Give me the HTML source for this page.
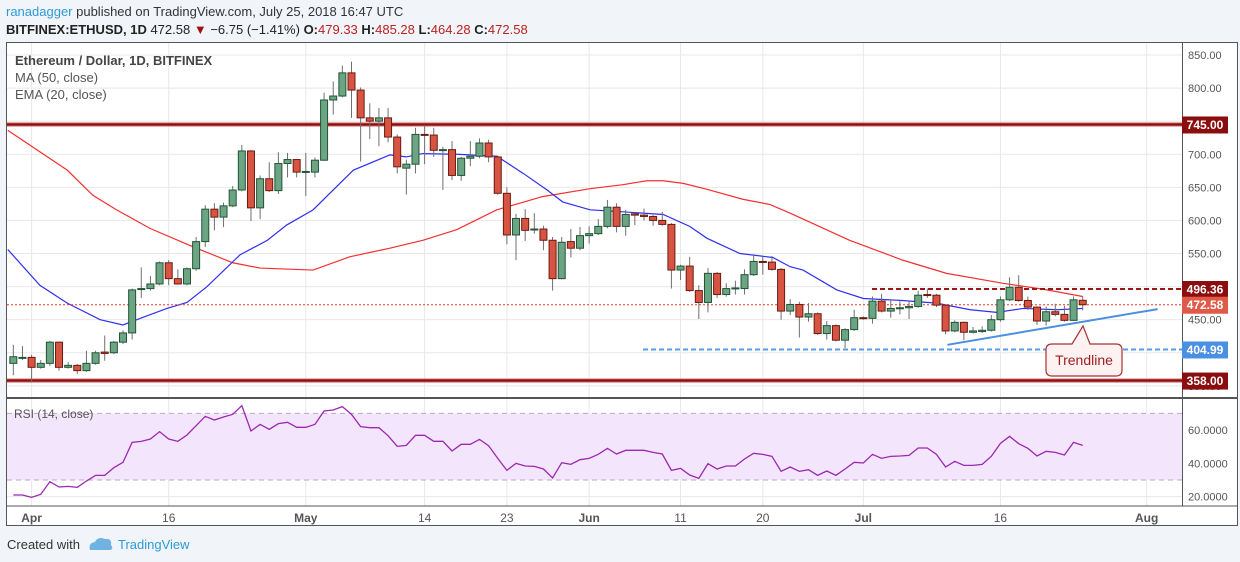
<!DOCTYPE html>
<html><head><meta charset="utf-8">
<style>
html,body{margin:0;padding:0;background:#f1f4f8;width:1240px;height:562px;overflow:hidden;font-family:"Liberation Sans",sans-serif}
svg{position:absolute;left:0;top:0}
</style></head>
<body>
<svg id="chart" width="1240" height="562" xmlns="http://www.w3.org/2000/svg" font-family="Liberation Sans, sans-serif">
<text x="6" y="16" font-size="13" fill="#333"><tspan fill="#2d9ad8">ranadagger</tspan> published on TradingView.com, July 25, 2018 16:47 UTC</text>
<text x="6" y="34" font-size="13" fill="#222"><tspan font-weight="bold">BITFINEX:ETHUSD, 1D</tspan> 472.58 <tspan fill="#a01010">▼</tspan> −6.75 (−1.41%) <tspan font-weight="bold">O:</tspan><tspan fill="#b22">479.33</tspan> <tspan font-weight="bold">H:</tspan><tspan fill="#b22">485.28</tspan> <tspan font-weight="bold">L:</tspan><tspan fill="#b22">464.28</tspan> <tspan font-weight="bold">C:</tspan><tspan fill="#b22">472.58</tspan></text>
<rect x="6.5" y="42.5" width="1231" height="483" fill="#fff" stroke="#555"/>
<g id="grid"></g>
<g id="rsi"></g>
<g id="price"></g>
<g id="axes"></g>
<line x1="6" y1="398" x2="1237" y2="398" stroke="#555" stroke-width="2"/>
<line x1="6" y1="506" x2="1237" y2="506" stroke="#555"/>
<line x1="1182.5" y1="42" x2="1182.5" y2="506" stroke="#555"/>
<text x="15" y="65" font-size="13" fill="#444" font-weight="bold">Ethereum / Dollar, 1D, BITFINEX</text>
<text x="15" y="82" font-size="13" fill="#555">MA (50, close)</text>
<text x="15" y="99" font-size="13" fill="#555">EMA (20, close)</text>
<text x="14" y="418" font-size="12" fill="#555">RSI (14, close)</text>
<g id="labels"></g>
<g>
<path d="M1052,344 L1072,344 L1083,326 L1090,344 L1116,344 Q1122,344 1122,350 L1122,370 Q1122,376 1116,376 L1052,376 Q1046,376 1046,370 L1046,350 Q1046,344 1052,344 Z" fill="#fdf1f1" stroke="#a83232" stroke-width="1.2"/>
<text x="1084" y="365" font-size="14" fill="#a02020" text-anchor="middle">Trendline</text>
</g>
<text x="7" y="549" font-size="13" fill="#333">Created with</text>
<g>
<path d="M90,550 Q88,543 95,542 Q98,536 105,539 Q112,538 111,545 Q114,549 110,550 Z" fill="#6fb3e3"/>
<text x="118" y="549" font-size="13" fill="#2d9ad8">TradingView</text>
</g>
</svg>
<script>
// ---- data ----
const startDay = -2; // first candle = Mar 30 (Apr 1 = day 0)
const opens = [384,392,393,378,384,416,378,381,373,384,401,400,416,430,496,497,504,536,512,504,527,568,617,605,622,646,705,619,663,645,686,692,673,673,691,782,788,823,797,755,750,755,726,679,685,730,729,706,707,668,694,697,717,696,641,578,603,586,587,570,512,568,558,577,580,591,620,591,610,608,606,600,594,525,531,494,476,520,488,497,497,518,538,537,526,463,473,454,459,429,441,419,435,453,452,478,463,467,468,470,488,487,472,433,446,431,432,434,450,480,499,479,469,448,462,458,449,479.33];
const closes = [394,393,378,384,416,378,381,373,384,400,399,416,430,495,497,504,536,512,504,527,568,617,605,622,646,705,619,663,645,686,692,673,674,691,782,788,823,797,755,750,755,726,681,685,730,729,706,707,668,694,697,717,696,641,578,603,585,587,570,512,567,558,577,580,591,620,591,609,608,606,600,594,525,531,494,476,520,488,497,498,518,538,537,526,463,473,454,459,429,441,419,435,453,452,478,463,467,468,470,487,487,472,433,446,431,433,434,450,480,499,479,469,448,462,458,449,480,472.58];
const highs = [412,410,397,389,418,417,386,383,403,403,426,418,434,497,529,516,538,540,526,529,575,623,626,627,652,714,706,668,688,703,702,693,702,695,793,810,834,840,801,777,770,770,730,692,740,744,740,711,720,696,720,724,722,698,650,610,617,611,592,575,575,587,590,591,602,631,626,616,613,618,608,613,596,533,545,502,528,522,505,509,526,549,545,546,528,481,477,475,461,448,443,437,465,455,485,489,481,478,479,494,497,489,473,449,447,439,440,457,485,514,517,485,470,470,474,471,485,485.28];
const lows = [366,389,355,376,380,373,376,368,371,382,388,398,413,420,483,494,502,502,503,502,524,560,585,590,620,644,599,602,643,640,665,665,637,665,690,760,786,755,689,723,712,718,671,639,671,685,696,646,661,660,682,694,688,639,564,540,569,580,555,494,511,544,555,565,578,588,582,577,593,600,592,592,497,510,492,451,461,483,485,488,488,516,518,524,450,457,423,447,427,420,417,407,433,450,444,461,453,458,451,468,483,469,428,431,419,429,430,432,447,478,477,465,442,441,455,447,448,464.28];
const rsiVals = [21,21,19.6,21.4,29,25.8,26.2,25.6,29.4,32.8,32.8,37.4,40.6,52.6,53.2,54.6,59,54.6,53.2,57,62.6,68.2,66,67.8,69.4,74.6,59.4,63.4,60.4,63.8,64.6,61.6,61.6,63.4,71.4,72,74,69.4,62,61.4,61.4,56.6,50.2,50.8,56.8,56.8,53.2,53.2,47.4,51.4,51.4,54.4,50.6,43,35.8,40,38.4,38.2,36.6,31.2,40.4,39.4,42.2,43,45.4,49,45.6,47.8,47.8,47.8,46.6,45.6,35.8,37,33,31,39.8,36.6,38.4,38.4,42.6,46,45.4,44.2,35.2,37.8,35.2,36.2,32.8,35.4,32.8,36.6,40.6,40.2,45.4,43,44.2,44.4,44.8,49.2,49.2,45.4,37.8,41.2,38.8,38.8,39.4,44.2,52,56.2,51.8,49,44.4,47.2,46.6,45,52.6,50.8];
const emaDays = [-2.6,0.9,3.9,7.5,10,11.9,14.8,17,19.2,22.8,25.8,27.9,30.8,33,35.2,39.2,41,42.8,46.5,50.9,53.8,56.4,58.1,61.1,64.7,69.1,72,73.9,77.5,81.1,83,84.4,88.1,91,95.3,99,102.7,105.6,108.5,112.2,115];
const emaVals = [556,502,475,450,442,452,467,476,500,548,570,593,616,646,676,699,696,701,700,697,671,646,628,616,613,609,591,573,550,544,530,525,495,482,479,475,465,461,467,465,467];
const maDays = [-2.6,3.9,6.7,9.3,12.95,17.7,22,25,30.8,34.8,39.2,42.8,46.5,50.9,55.9,61.1,64.7,67.3,69.1,71.3,73.9,77.8,80.8,83,89.5,95.3,100.1,106.3,110.7,115];
const maVals = [736,676,638,616,588,560,536,528,525,545,558,570,586,616,636,648,654,660,660,656,647,632,624,611,570,540,520,505,496,485];
const priceTicks = [850,800,750,700,650,600,550,500,450,400,350];
const rsiTicks = [60,40,20];
const dateTickDays = [0,15,30,43,52,61,71,80,91,106,122];
const dateTickLabels = ["Apr","16","May","14","23","Jun","11","20","Jul","16","Aug"];
const dateTickBold = [1,0,1,0,0,1,0,0,1,0,1];
const levelVals = [745,496.36,472.58,404.99,358];
const levelColors = ["#8b0d0d","#8b0d0d","#e05a48","#4a90e2","#8b0d0d"];
const trendDays = [100.2,123.2];
const trendVals = [412,466];
// ---- scales ----
const NS="http://www.w3.org/2000/svg";
const xD = d => 31.6 + d*9.14;
const yP = p => 55 + (850-p)*0.6617;
const yR = v => 430 + (60-v)*1.667;
function mk(tag, attrs, parent){const e=document.createElementNS(NS,tag);for(const k in attrs)e.setAttribute(k,attrs[k]);parent.appendChild(e);return e;}
const grid=document.getElementById('grid'), price=document.getElementById('price'), rsi=document.getElementById('rsi'), axes=document.getElementById('axes'), labels=document.getElementById('labels');
// grid
priceTicks.forEach(p=>{const l=mk('line',{x1:7,x2:1182,y1:yP(p),y2:yP(p),stroke:'#e8e8e8'},grid);


const t=mk('text',{x:1188,y:yP(p)+4,'font-size':11,fill:'#555'},axes);t.textContent=p.toFixed(2);

});
[60,40,20].forEach(v=>{const l=mk('line',{x1:7,x2:1182,y1:yR(v),y2:yR(v),stroke:'#e8e8e8'},grid);

});
rsiTicks.forEach(v=>{const t=mk('text',{x:1188,y:yR(v)+4,'font-size':11,fill:'#555'},axes);t.textContent=v.toFixed(4);

});
dateTickDays.forEach((d,i)=>{const l=mk('line',{x1:xD(d),x2:xD(d),y1:43,y2:506,stroke:'#e8e8e8'},grid);


const t=mk('text',{x:xD(d),y:522,'font-size':12,fill:'#555','text-anchor':'middle','font-weight':dateTickBold[i]?'bold':'normal'},axes);t.textContent=dateTickLabels[i];

});
// rsi band
const band=mk('rect',{x:7,y:yR(70),width:1175,height:yR(30)-yR(70),fill:'#f3e6fc'},rsi);


[70,30].forEach(v=>{const l=mk('line',{x1:7,x2:1182,y1:yR(v),y2:yR(v),stroke:'#b9a6c4','stroke-dasharray':'5,4'},rsi);

});
const rp=mk('polyline',{points:rsiVals.map((v,i)=>xD(startDay+i)+','+yR(v)).join(' '),fill:'none',stroke:'#9c27b0','stroke-width':1.3},rsi);


// clip
const defs=mk('defs',{},price);const cp=mk('clipPath',{id:'pc'},defs);mk('rect',{x:7,y:43,width:1175,height:354},cp);
const pg=mk('g',{'clip-path':'url(#pc)'},price);
// MAs
const ma=mk('polyline',{points:maDays.map((d,i)=>xD(d)+','+yP(maVals[i])).join(' '),fill:'none',stroke:'#f23030','stroke-width':1.2},pg);


const ema=mk('polyline',{points:emaDays.map((d,i)=>xD(d)+','+yP(emaVals[i])).join(' '),fill:'none',stroke:'#3030f0','stroke-width':1.2},pg);


// levels
const lv0=mk('rect',{x:7,y:yP(levelVals[0])-2,width:1175,height:4,fill:'#c86060'},pg);


mk('line',{x1:7,x2:1182,y1:yP(levelVals[0]),y2:yP(levelVals[0]),stroke:'#8b0d0d','stroke-width':2},pg);
const lv4=mk('rect',{x:7,y:yP(levelVals[4])-2,width:1175,height:4,fill:'#c86060'},pg);


mk('line',{x1:7,x2:1182,y1:yP(levelVals[4]),y2:yP(levelVals[4]),stroke:'#8b0d0d','stroke-width':2},pg);
const lv1=mk('line',{x1:872,x2:1182,y1:yP(levelVals[1]),y2:yP(levelVals[1]),stroke:'#9b1515','stroke-width':2,'stroke-dasharray':'5,3'},pg);


const lv2=mk('line',{x1:7,x2:1182,y1:yP(levelVals[2]),y2:yP(levelVals[2]),stroke:'#e0392b','stroke-width':1,'stroke-dasharray':'2,2'},pg);


const lv3=mk('line',{x1:643,x2:1182,y1:yP(levelVals[3]),y2:yP(levelVals[3]),stroke:'#5b9ae8','stroke-width':2,'stroke-dasharray':'5,3'},pg);


const tl=mk('line',{x1:xD(trendDays[0]),y1:yP(trendVals[0]),x2:xD(trendDays[1]),y2:yP(trendVals[1]),stroke:'#4a8fe0','stroke-width':2},pg);


// candles
opens.forEach((o,i)=>{const c=closes[i],x=xD(startDay+i),up=c>=o;
const g=mk('g',{},pg);


mk('line',{x1:x,x2:x,y1:yP(highs[i]),y2:yP(lows[i]),stroke:'#6f6f6f','stroke-width':1},g);
const t=yP(Math.max(o,c)),b=yP(Math.min(o,c));
mk('rect',{x:x-3.5,y:t,width:7,height:Math.max(b-t,1),fill:up?'#6ba583':'#d75442',stroke:up?'#225437':'#6b1a10','stroke-width':1},g);});
// level labels
levelVals.forEach((v,i)=>{const y=yP(v);const r=mk('rect',{x:1182,y:y-8,width:46,height:17,fill:levelColors[i]},labels);


const t=mk('text',{x:1205,y:y+4.5,'font-size':12,'font-weight':'bold',fill:'#fff','text-anchor':'middle'},labels);t.textContent=v.toFixed(2);

});
</script>
</body></html>
